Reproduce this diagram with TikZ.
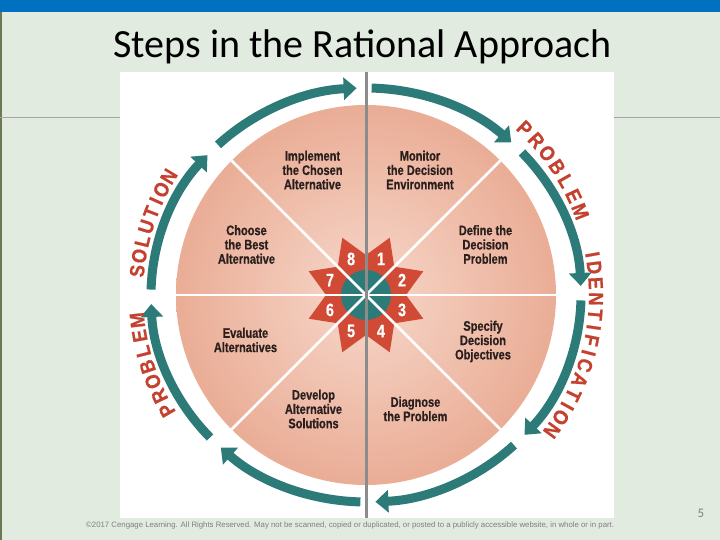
\documentclass[tikz,border=0pt]{standalone}
\usepackage{fontspec}
\setmainfont{Liberation Sans}
\newfontfamily\titlefont{Carlito}
\newfontfamily\condfont[FakeStretch=0.8,FakeBold=0.6]{Liberation Sans}
\newfontfamily\arcfont[FakeStretch=0.9,FakeBold=0.8]{Liberation Sans}
\usetikzlibrary{arrows.meta,calc}
\definecolor{bg}{HTML}{E2EBDF}
\definecolor{topblue}{HTML}{0070C0}
\definecolor{edgeolive}{HTML}{6E7652}
\definecolor{sepgrey}{HTML}{A3A6A3}
\definecolor{vgrey}{HTML}{8C8C8C}
\definecolor{teal}{HTML}{2D7B78}
\definecolor{starred}{HTML}{D14A35}
\definecolor{arcred}{HTML}{C4412F}
\definecolor{labelink}{HTML}{2A1F1D}
\definecolor{footgrey}{HTML}{7F7F7F}
\definecolor{discin}{HTML}{F7D8CB}
\definecolor{discout}{HTML}{EAAD96}
\pgfdeclareradialshading{discshade}{\pgfpoint{0bp}{0bp}}{color(0bp)=(discin); color(25bp)=(discout); color(50bp)=(discout)}
\tikzset{
  steplabel/.style={font=\condfont\bfseries\fontsize{13.8}{14.3}\selectfont, text=labelink, align=center, inner sep=0pt},
  arcletter/.style={font=\arcfont\bfseries\fontsize{20.5}{20.5}\selectfont, text=arcred, inner sep=0pt},
  numlabel/.style={font=\condfont\bfseries\fontsize{18}{18}\selectfont, text=white, inner sep=0pt},
  arrowarc/.style={draw=teal, line width=9pt, -{Triangle[width=22pt,length=13pt]}},
  divider/.style={draw=white, line width=2.5pt}
}
\begin{document}
\begin{tikzpicture}[x=1pt,y=1pt]
\useasboundingbox (0,0) rectangle (720,540);
% slide background
\fill[bg] (0,0) rectangle (720,540);
\fill[topblue] (0,528) rectangle (720,540);
\draw[edgeolive, line width=1.5pt] (0.75,0) -- (0.75,528);
\draw[sepgrey, line width=1pt] (0,422) -- (720,422);
% title
\node[font=\titlefont\fontsize{40}{48}\selectfont, anchor=base, text=black] (title) at (362.5,482) {Steps in the Rational Approach};
% image area
\fill[white] (120,22) rectangle (614,468);
\coordinate (C) at (366,245);
% disc
\shade[shading=discshade] (C) circle (190pt);
% star
\fill[starred] ([shift={(C)}]0:40pt)
  \foreach \k in {0,...,7} { -- ([shift={(C)}]{22.5+45*\k}:62pt) -- ([shift={(C)}]{45+45*\k}:40pt) } -- cycle;
\fill[teal] (C) circle (25pt);
% dividers
\foreach \a in {0,45,135,180,225,315} {
  \draw[divider] (C) -- ([shift={(C)}]\a:190pt);
}
\draw[vgrey, line width=3pt] (366,22) -- (366,468);
% numbers
\foreach \n/\a in {1/67.5,2/22.5,3/-22.5,4/-67.5,5/-112.5,6/-157.5,7/157.5,8/112.5} {
  \node[numlabel] (n\n) at ([shift={(C)}]\a:39pt) {\n};
}
% step labels
\node[steplabel] (implement) at (312.5,370) {Implement\\the Chosen\\Alternative};
\node[steplabel] (monitor) at (420,370) {Monitor\\the Decision\\Environment};
\node[steplabel] (define) at (485.5,295.5) {Define the\\Decision\\Problem};
\node[steplabel] (choose) at (246.5,295.5) {Choose\\the Best\\Alternative};
\node[steplabel] (evaluate) at (245.5,200) {Evaluate\\Alternatives};
\node[steplabel] (specify) at (483,198.5) {Specify\\Decision\\Objectives};
\node[steplabel] (develop) at (313.5,131) {Develop\\Alternative\\Solutions};
\node[steplabel] (diagnose) at (415.5,131) {Diagnose\\the Problem};
% circular arrows
\foreach \a in {135,90,45,0,-45,-90,-135,-180} {
  \draw[arrowarc] ([shift={(C)}]{\a-1.5}:215pt and 207pt) arc[start angle={\a-1.5}, end angle={\a-42.5}, x radius=215pt, y radius=207pt];
}
% curved words
\foreach \a/\l in {46.4/P,42.2/R,38.0/O,33.8/B,29.7/L,25.5/E,21.3/M,
  10.1/I,6.86/D,2.94/E,-0.98/N,-4.9/T,-8.13/I,-11.37/F,-14.6/I,-17.84/C,-21.76/A,-25.68/T,-28.91/I,-32.15/O,-36.07/N,
  210/P,206.05/R,202.1/O,198.15/B,194.2/L,190.25/E,186.3/M,
  174/S,170.24/O,166.48/L,162.72/U,158.96/T,155.86/I,152.76/O,149/N} {
  \node[arcletter, rotate=\a-90] at ([shift={(C)}]\a:230pt) {\l};
}
% footer
\node[font=\fontsize{7.8}{9}\selectfont, text=footgrey, anchor=base west, inner sep=0pt] (footer) at (86,12) {\textcopyright2017 Cengage Learning. All Rights Reserved. May not be scanned, copied or duplicated, or posted to a publicly accessible website, in whole or in part.};
\node[font=\titlefont\fontsize{13}{14}\selectfont, text=footgrey] (pagenum) at (701,27) {5};
\end{tikzpicture}
\end{document}
